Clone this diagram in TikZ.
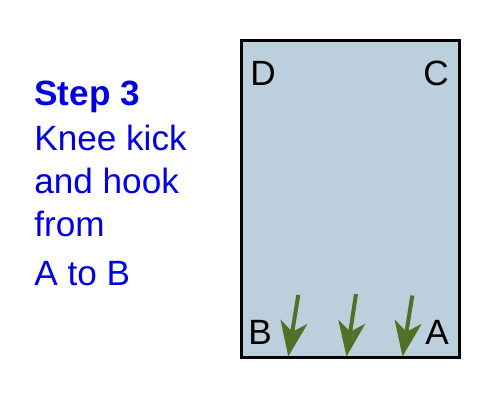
\documentclass[tikz,border=0pt]{standalone}
\usepackage{fontspec}
\setmainfont{Liberation Sans}
\usetikzlibrary{arrows.meta}
\definecolor{matblue}{RGB}{188,207,220}
\definecolor{kickgreen}{RGB}{78,114,38}
\definecolor{stepblue}{RGB}{0,0,225}
\begin{document}
\begin{tikzpicture}[x=0.02cm,y=-0.02cm,
    corner/.style={anchor=base west,inner sep=0pt,font=\fontsize{20}{24}\selectfont},
    caption/.style={anchor=base west,inner sep=0pt,text=stepblue,font=\fontsize{20}{24}\selectfont},
    kick/.style={-{Stealth[length=35*0.02cm,width=27*0.02cm,inset=10*0.02cm]},line width=4*0.02cm,kickgreen}]
     \useasboundingbox (0,0) rectangle (500,400);

      % the mat
      \draw[line width=3*0.02cm, fill=matblue] (241.5,40) rectangle (459.3,357.5);

      % corners
      \node[corner] (D) at (250,85) {D};
      \node[corner] (C) at (423,85) {C};
      \node[corner] (B) at (248,344) {B};
      \node[corner] (A) at (425,344) {A};

      % text
      \node[caption,font=\fontsize{20}{24}\selectfont\bfseries] (step) at (34,105) {Step 3};
      \node[caption] (line1) at (34,150.5) {Knee kick};
      \node[caption] (line2) at (34,193) {and hook};
      \node[caption] (line3) at (34,236) {from};
      \node[caption] (line4) at (34,285) {A to B};

      % kicks
      \coordinate (k1s) at (298.3,295);  \coordinate (k1e) at (288.3,356.5);
      \coordinate (k2s) at (356,294);    \coordinate (k2e) at (346.5,356.5);
      \coordinate (k3s) at (412.3,295.5);\coordinate (k3e) at (402.5,356.5);
      \draw[kick] (k1s) -- (k1e);
      \draw[kick] (k2s) -- (k2e);
      \draw[kick] (k3s) -- (k3e);

    \end{tikzpicture}
\end{document}
